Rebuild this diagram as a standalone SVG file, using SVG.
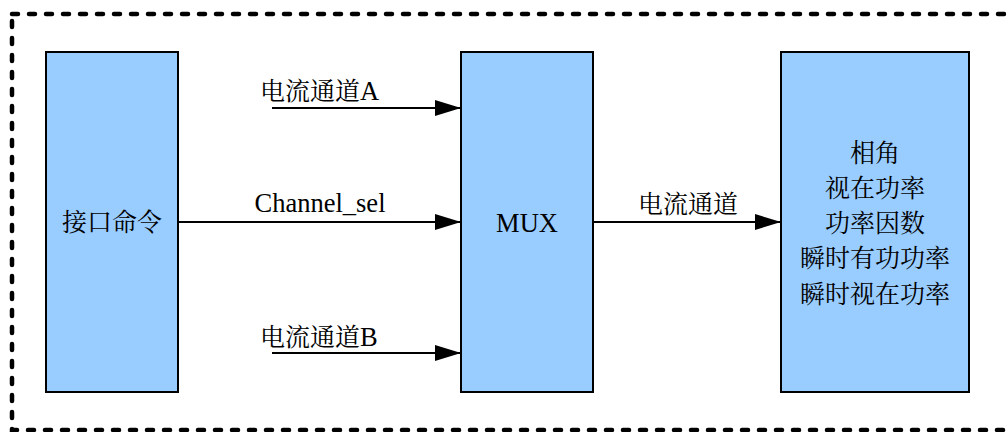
<svg xmlns="http://www.w3.org/2000/svg" width="1006" height="432" viewBox="0 0 1006 432">
  <style>
    .box { fill: #99ccff; stroke: #000; stroke-width: 2; }
    .frame { fill: none; stroke: #000; stroke-width: 4.5; stroke-dasharray: 6 11; stroke-linecap: round; }
    .wire { fill: none; stroke: #000; stroke-width: 2; marker-end: url(#arrow); }
    text { font-family: "Liberation Serif", "Noto Serif CJK SC", "Noto Sans CJK SC", serif; font-size: 25px; fill: #000; }
    .lat { font-size: 26.5px; }
    .mid { text-anchor: middle; }
  </style>
  <defs>
    <marker id="arrow" markerUnits="userSpaceOnUse" markerWidth="28" markerHeight="18" refX="26" refY="8" orient="auto">
      <path d="M0,0 L26,8 L0,16 Z" fill="#000"/>
    </marker>
  </defs>

  <rect width="1006" height="432" fill="#fff"/>

  <!-- dashed enclosure, right side runs past the canvas edge -->
  <rect class="frame" x="12" y="14" width="1010" height="416"/>

  <g id="connectors">
    <line class="wire" x1="272" y1="108" x2="461" y2="108"/>
    <line class="wire" x1="178" y1="222" x2="461" y2="222"/>
    <line class="wire" x1="272" y1="353" x2="461" y2="353"/>
    <line class="wire" x1="593" y1="222" x2="781" y2="222"/>
    <text x="260" y="100">电流通道<tspan class="lat">A</tspan></text>
    <text x="320" y="212" class="mid lat">Channel_sel</text>
    <text x="260" y="346">电流通道<tspan class="lat">B</tspan></text>
    <text x="688" y="213" class="mid">电流通道</text>
  </g>

  <g id="interface">
    <rect class="box" x="46" y="52" width="132" height="340"/>
    <text x="112" y="231" class="mid">接口命令</text>
  </g>

  <g id="mux">
    <rect class="box" x="461" y="52" width="132" height="340"/>
    <text x="527" y="232" class="mid lat">MUX</text>
  </g>

  <g id="outputs">
    <rect class="box" x="781" y="52" width="188" height="340"/>
    <text x="875" y="162" class="mid">相角</text>
    <text x="875" y="197" class="mid">视在功率</text>
    <text x="875" y="232" class="mid">功率因数</text>
    <text x="875" y="267" class="mid">瞬时有功功率</text>
    <text x="875" y="303" class="mid">瞬时视在功率</text>
  </g>
</svg>
